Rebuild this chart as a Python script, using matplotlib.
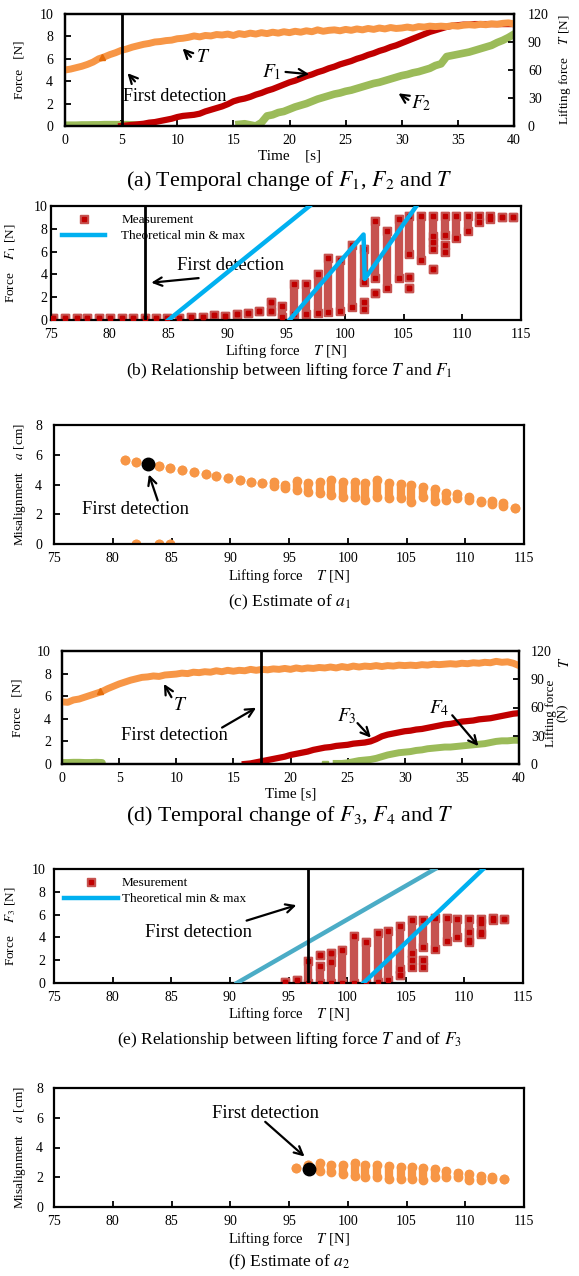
import numpy as np
import matplotlib.pyplot as plt
from matplotlib.lines import Line2D

plt.rcParams['font.family'] = ['Liberation Serif', 'DejaVu Serif']
plt.rcParams['mathtext.fontset'] = 'stix'

ORANGE = '#f79646'
DKORANGE = '#e46c0a'
RED = '#c00000'
GREEN = '#9bbb59'
BLUE = '#00b0f0'
TEAL = '#4bacc6'
SQ = '#c65350'

# ---------------- (a) temporal change of F1, F2, T (every 0.5 s)
a_T = [60, 61, 62.5, 64, 66, 68.5, 72, 74, 76.5, 78.5,
       81, 82.5, 84.5, 86, 87.5, 88.5, 90, 90.5, 91.5, 92,
       93.5, 94, 95, 96.5, 95.5, 97, 96.5, 98, 97.5, 98.5,
       97, 99, 98, 99.5, 98.5, 100, 99, 100.5, 99.5, 101,
       100, 101.5, 100.5, 102, 101, 103, 101.5, 102.5, 103, 102,
       103.5, 102.5, 104, 103, 104.5, 103.5, 105, 104, 105.5, 104.5,
       105, 106, 105, 106.5, 106, 107, 106.5, 107, 106.5, 107.5,
       107, 108, 108.5, 108, 109, 108.5, 109.5, 109, 110, 110.5,
       109.5]
a_F1_start = 5.0
a_F1 = [0.0, 0.05, 0.1, 0.15, 0.2, 0.3, 0.35, 0.45, 0.55, 0.65,
        0.8, 0.9, 0.95, 1.0, 1.1, 1.3, 1.45, 1.6, 1.75, 1.95,
        2.2, 2.35, 2.45, 2.6, 2.8, 2.95, 3.15, 3.3, 3.5, 3.7,
        3.9, 4.05, 4.25, 4.45, 4.6, 4.8, 4.95, 5.15, 5.3, 5.5,
        5.65, 5.8, 6.0, 6.15, 6.35, 6.5, 6.7, 6.85, 7.05, 7.2,
        7.4, 7.6, 7.8, 8.0, 8.2, 8.4, 8.55, 8.7, 8.85, 8.95,
        9.0, 9.05, 9.05, 9.1, 9.1, 9.1, 9.1, 9.1, 9.1, 9.1,
        9.1]
a_F2_early = [0.1, 0.1, 0.1, 0.12, 0.12, 0.13, 0.13, 0.15, 0.15, 0.15,
              0.15, 0.15, 0.13, 0.1, 0.05]
a_F2_start = 15.5
a_F2 = [0.15, 0.2, 0.1, 0.0, 0.3,
        0.9, 1.0, 1.2, 1.3, 1.5,
        1.7, 1.85, 2.0, 2.2, 2.4,
        2.55, 2.7, 2.85, 2.95, 3.1,
        3.2, 3.35, 3.5, 3.65, 3.8,
        3.9, 4.05, 4.2, 4.35, 4.5,
        4.6, 4.75, 4.85, 5.0, 5.15,
        5.4, 5.55, 6.2, 6.3, 6.4,
        6.5, 6.6, 6.75, 6.9, 7.05,
        7.2, 7.45, 7.65, 7.9, 8.2]
a_detect = 5.08

# ---------------- (b) F1 vs T : columns (T, low, high)
b_T = [75.2, 76.2, 77.2, 78.1, 79.1, 80.0, 81.0, 82.0, 83.0, 83.9,
       84.9, 85.9, 86.9, 87.9, 88.9, 89.8, 90.8, 91.8, 92.7, 93.7,
       93.7, 94.7, 95.7, 96.7, 97.7, 98.6, 99.6, 100.6, 101.6, 101.6,
       102.6, 102.6, 103.6, 104.6, 105.5, 105.5, 105.5, 106.5, 107.5, 107.5,
       107.5, 108.5, 108.5, 109.5, 110.5, 111.4, 112.4, 113.4, 114.3]
b_lo = [0.15, 0.15, 0.15, 0.15, 0.15, 0.15, 0.2, 0.2, 0.2, 0.2,
        0.2, 0.15, 0.3, 0.25, 0.4, 0.35, 0.55, 0.6, 0.8, 0.8,
        1.6, 0.3, 0.5, 0.5, 0.6, 0.7, 0.8, 1.1, 1.0, 3.3,
        2.4, 3.7, 2.8, 3.7, 2.8, 3.8, 5.8, 5.3, 4.5, 6.2,
        7.4, 6.0, 7.5, 7.2, 7.8, 8.6, 8.9, 9.0, 9.0]
b_hi = [0.15, 0.15, 0.15, 0.15, 0.15, 0.15, 0.2, 0.2, 0.2, 0.2,
        0.2, 0.15, 0.3, 0.25, 0.4, 0.35, 0.55, 0.6, 0.8, 0.8,
        1.6, 1.2, 3.2, 3.2, 4.0, 5.4, 5.3, 6.6, 1.6, 6.2,
        2.4, 8.7, 7.8, 8.9, 2.8, 3.8, 9.1, 9.1, 4.5, 6.8,
        9.1, 6.6, 9.1, 9.1, 9.1, 9.1, 9.1, 9.0, 9.0]
b_theory1_T = [85.0, 97.0]
b_theory1_F = [0, 10]
b_theory2_T = [95.3, 101.6, 101.7, 106.1]
b_theory2_F = [0, 7.5, 3.6, 10]
b_detect = 83.0

# ---------------- (c) estimate of a1 : columns (T, low, high)
c_T = [81.0, 82.0, 83.9, 84.9, 85.9, 86.9, 87.9, 88.8, 89.8, 90.8,
       91.8, 92.7, 93.7, 94.7, 95.7, 96.6, 97.6, 98.6, 99.6, 100.6,
       101.5, 102.5, 103.5, 104.5, 105.4, 106.4, 107.4, 108.4, 109.3, 110.3,
       111.3, 112.3, 113.2, 114.2, 82.0, 83.9, 84.9]
c_lo = [5.65, 5.5, 5.25, 5.1, 4.95, 4.82, 4.7, 4.57, 4.42, 4.32,
        4.2, 4.1, 3.9, 3.75, 3.6, 3.5, 3.4, 3.3, 3.15, 3.15,
        2.95, 3.15, 3.1, 3.1, 2.85, 3.15, 2.9, 2.95, 3.1, 2.95,
        2.8, 2.7, 2.55, 2.45, 0, 0, 0]
c_hi = [5.65, 5.5, 5.25, 5.1, 4.95, 4.82, 4.7, 4.57, 4.42, 4.32,
        4.2, 4.1, 4.15, 3.95, 4.25, 4.1, 4.2, 4.3, 4.2, 4.2,
        4.1, 4.3, 4.1, 4.05, 3.95, 3.8, 3.7, 3.45, 3.35, 3.15,
        2.9, 2.9, 2.75, 2.45, 0, 0, 0]
c_first = (83.0, 5.38)

# ---------------- (d) temporal change of F3, F4, T (every 0.5 s)
d_T = [66, 65.5, 68, 69, 71, 73, 75, 77, 80, 82.5,
       85, 87, 89, 90.5, 92, 92.5, 93.5, 93, 94.5, 95,
       95.5, 96.5, 96, 97.5, 97, 98, 97.5, 99, 98, 99.5,
       98.5, 99.5, 99, 100.5, 99.5, 100.5, 100, 101, 100.5, 101.5,
       100.5, 102, 101, 102, 101.5, 102.5, 102, 103, 102, 103.5,
       102.5, 104, 103, 104, 103.5, 104.5, 103.5, 104.5, 104, 105,
       104.5, 105, 104.5, 105.5, 105, 106, 105.5, 106, 106.5, 106,
       107, 106.5, 107.5, 107, 108, 107.5, 109, 108, 108.5, 107,
       104.5]
d_F3_start = 16.0
d_F3 = [0.0, 0.05, 0.15, 0.25, 0.35, 0.45, 0.55, 0.65,
        0.8, 0.9, 1.0, 1.1, 1.25, 1.35, 1.45, 1.5, 1.6, 1.65,
        1.7, 1.8, 1.85, 1.9, 2.0, 2.2, 2.45, 2.6, 2.7, 2.8,
        2.9, 2.95, 3.05, 3.1, 3.2, 3.3, 3.4, 3.5, 3.55, 3.65,
        3.75, 3.8, 3.85, 3.95, 4.0, 4.05, 4.15, 4.25, 4.35, 4.45,
        4.5]
d_F4_early = [0.1, 0.1, 0.12, 0.12, 0.1, 0.1, 0.12, 0.1]
d_F4_single = (23.0, 0.0)
d_F4_start = 24.0
d_F4 = [0.05, 0.05, 0.1, 0.2, 0.3, 0.35, 0.4, 0.5, 0.65, 0.8,
        0.9, 1.0, 1.05, 1.1, 1.2, 1.25, 1.35, 1.4, 1.45, 1.5,
        1.5, 1.55, 1.6, 1.65, 1.7, 1.75, 1.8, 1.9, 2.0, 2.05,
        2.05, 2.1, 2.1]
d_detect = 17.4

# ---------------- (e) F3 vs T : columns (T, low, high)
e_T = [94.7, 95.7, 96.7, 97.7, 97.7, 98.6, 98.6, 99.6, 100.6, 101.6,
       102.6, 103.5, 104.5, 104.5, 105.5, 105.5, 106.5, 106.5, 107.5, 108.5,
       109.4, 110.4, 110.4, 111.4, 111.4, 112.4, 113.4]
e_lo = [0.1, 0.3, 0.0, 0.0, 2.5, 0.0, 2.6, 0.0, 0.0, 0.0,
        0.1, 0.3, 0.7, 1.2, 1.4, 2.6, 1.4, 3.2, 3.0, 3.7,
        4.0, 3.6, 4.5, 4.3, 5.3, 5.5, 5.6]
e_hi = [0.1, 0.3, 1.9, 1.5, 2.5, 1.8, 2.6, 2.9, 4.1, 3.6,
        4.4, 4.6, 0.7, 5.0, 2.0, 5.5, 2.0, 5.5, 5.7, 5.7,
        5.6, 3.8, 5.6, 4.5, 5.6, 5.7, 5.6]
e_theory1_T = [90.6, 107.5]
e_theory1_F = [0, 10]
e_theory2_T = [101.4, 111.6]
e_theory2_F = [0, 10]
e_detect = 96.7

# ---------------- (f) estimate of a2 : columns (T, low, high)
f_T = [95.6, 96.6, 97.6, 98.6, 99.6, 100.6, 101.5, 102.5, 103.5, 104.5,
       105.5, 106.4, 107.4, 108.4, 109.4, 110.3, 111.3, 112.3, 113.3]
f_lo = [2.63, 2.8, 2.4, 2.35, 2.2, 2.1, 2.0, 2.0, 1.9, 1.9,
        1.9, 1.8, 2.0, 2.0, 2.0, 1.8, 1.8, 1.9, 1.85]
f_hi = [2.63, 2.8, 2.95, 2.85, 2.85, 2.95, 2.8, 2.85, 2.75, 2.7,
        2.7, 2.65, 2.55, 2.45, 2.3, 2.2, 2.1, 2.0, 1.85]
f_first = (96.7, 2.55)

W, H = 579, 1276
fig = plt.figure(figsize=(W / 100, H / 100), dpi=100)


def place(l, r, t, b):
    ax = fig.add_axes([l / W, 1 - b / H, (r - l) / W, (b - t) / H])
    ax.px = (r - l, b - t)
    return ax


def style(ax, ypad, right_ticks=False, rpad=10):
    for s in ax.spines.values():
        s.set_linewidth(1.6)
    ax.tick_params(direction='in', length=4, width=1.3, labelsize=10,
                   top=False, right=right_ticks)
    ax.tick_params(axis='x', pad=5.5)
    ax.tick_params(axis='y', which='both', pad=ypad)
    if right_ticks:
        ax.tick_params(axis='y', pad=rpad)


def labels(ax, xlab, ylab, ydx, xdy=30, xsize=10.5, ysize=9.5):
    w, h = ax.px
    ax.set_xlabel(xlab, fontsize=xsize)
    ax.xaxis.set_label_coords(0.5, -xdy / h)
    ax.xaxis.label.set_va('center')
    ax.set_ylabel(ylab, fontsize=ysize)
    ax.yaxis.set_label_coords(-ydx / w, 0.5)
    ax.yaxis.label.set_va('center')


def times(t0, vals):
    return t0 + 0.5 * np.arange(len(vals))


def arrow(ax, tail, head, **kw):
    ax.annotate('', xy=head, xytext=tail,
                arrowprops=dict(arrowstyle='->', lw=1.6, color='black',
                                mutation_scale=15), **kw)


def squares(ax, xs, los, his):
    for x, lo, hi in zip(xs, los, his):
        ax.plot([x, x], [lo, hi], color=SQ, lw=6, solid_capstyle='projecting',
                zorder=2)
        ax.plot([x, x], [lo, hi], ls='none', marker='s', ms=6, mfc=SQ,
                mec=SQ, zorder=2)
        ax.plot([x, x], [lo, hi], ls='none', marker='s', ms=2.3, mfc=RED,
                mec=RED, zorder=3)


def dots(ax, xs, los, his):
    for x, lo, hi in zip(xs, los, his):
        ax.plot([x, x], [lo, hi], color=ORANGE, lw=6, solid_capstyle='round',
                zorder=2)
        ax.plot([x, x], [lo, hi], ls='none', marker='o', ms=6, mfc=ORANGE,
                mec=ORANGE, zorder=2)


def caption(y, s, size=12.5):
    fig.text(0.5, 1 - y / H, s, ha='center', va='center', fontsize=size)


# ================= (a)
ax = place(65, 514, 14, 126)
ax2 = ax.twinx()
ax.plot(times(0, a_F2_early), a_F2_early, color=GREEN, lw=5, solid_capstyle='round')
ax.plot(times(a_F1_start, a_F1), a_F1, color=RED, lw=4.5)
ax.plot(times(a_F2_start, a_F2), a_F2, color=GREEN, lw=5.5)
ax2.plot(times(0, a_T), a_T, color=ORANGE, lw=5)
ax2.plot([3.3], [74], marker='^', color=DKORANGE, ms=5)
ax2.axvline(a_detect, color='black', lw=2)
ax.set_xlim(0, 40)
ax.set_ylim(0, 10)
ax2.set_ylim(0, 120)
ax.set_xticks(np.arange(0, 41, 5))
ax.set_yticks(np.arange(0, 11, 2))
ax2.set_yticks(np.arange(0, 121, 30))
style(ax, 8.5)
style(ax2, 8.5, right_ticks=True, rpad=10)
labels(ax, 'Time    [s]', 'Force   [N]', 45, xsize=11)
ax2.set_ylabel('Lifting force    $T$ [N]', fontsize=9.5)
ax2.yaxis.set_label_coords(1 + 51 / ax.px[0], 0.5)
ax2.yaxis.label.set_va('center')
kw = dict(xycoords=ax.transData, textcoords=ax.transData)
ax2.text(12.3, 6.1, '$T$', fontsize=14, va='center', ha='center', transform=ax.transData)
arrow(ax2, (11.4, 6.0), (10.3, 7.1), **kw)
ax2.text(5.2, 2.6, 'First detection', fontsize=13, va='center', transform=ax.transData)
arrow(ax2, (6.4, 3.8), (5.4, 4.9), **kw)
ax2.text(18.4, 4.85, '$F_1$', fontsize=14, va='center', ha='center', transform=ax.transData)
arrow(ax2, (19.4, 4.85), (22.0, 4.6), **kw)
ax2.text(31.7, 2.0, '$F_2$', fontsize=14, va='center', ha='center', transform=ax.transData)
arrow(ax2, (30.8, 2.2), (29.5, 3.05), **kw)
caption(181, '(a) Temporal change of $F_1$, $F_2$ and $T$', 15.8)

# ================= (b)
ax = place(51, 521, 206, 320)
squares(ax, b_T, b_lo, b_hi)
ax.plot(b_theory1_T, b_theory1_F, color=BLUE, lw=3.2, zorder=4)
ax.plot(b_theory2_T, b_theory2_F, color=BLUE, lw=3.2, zorder=4)
ax.axvline(b_detect, color='black', lw=2, zorder=5)
ax.set_xlim(75, 115)
ax.set_ylim(0, 10)
ax.set_xticks(np.arange(75, 116, 5))
ax.set_yticks(np.arange(0, 11, 2))
style(ax, 2.5)
labels(ax, 'Lifting force    $T$ [N]', 'Force    $F_1$ [N]', 40, xdy=31)
ax.text(90.3, 4.8, 'First detection', fontsize=13.4, ha='center', va='center')
arrow(ax, (87.8, 3.7), (83.3, 3.25))
m_out = Line2D([], [], ls='none', marker='s', ms=6, mfc=SQ, mec=SQ)
m_in = Line2D([], [], ls='none', marker='s', ms=2.3, mfc=RED, mec=RED)
ln = Line2D([], [], color=BLUE, lw=3.2)
ax.legend([(m_out, m_in), ln], ['Measurement', 'Theoretical min & max'],
          loc='upper left', bbox_to_anchor=(0.023, 0.93), frameon=False,
          fontsize=9.5, handlelength=3.3, handletextpad=1.2, borderpad=0,
          borderaxespad=0, labelspacing=0.3)
caption(371, '(b) Relationship between lifting force $T$ and $F_1$')

# ================= (c)
ax = place(54, 524, 425, 544)
dots(ax, c_T, c_lo, c_hi)
ax.plot(*c_first, marker='o', ms=9, color='black', zorder=4)
ax.set_xlim(75, 115)
ax.set_ylim(0, 8)
ax.set_xticks(np.arange(75, 116, 5))
ax.set_yticks(np.arange(0, 9, 2))
style(ax, 8.5)
labels(ax, 'Lifting force    $T$ [N]', 'Misalignment    $a$ [cm]', 34, xdy=32)
ax.text(81.9, 2.35, 'First detection', fontsize=13.4, ha='center', va='center')
arrow(ax, (83.9, 2.75), (83.0, 4.85))
caption(602, '(c) Estimate of $a_1$')

# ================= (d)
ax = place(62, 519, 651, 764)
ax2 = ax.twinx()
ax.plot(times(0, d_F4_early), d_F4_early, color=GREEN, lw=5.5, solid_capstyle='round')
ax.plot(times(d_F3_start, d_F3), d_F3, color=RED, lw=4.5)
ax.plot(*d_F4_single, marker='s', ms=5, color=GREEN)
ax.plot(times(d_F4_start, d_F4), d_F4, color=GREEN, lw=5)
ax2.plot(times(0, d_T), d_T, color=ORANGE, lw=5)
ax2.plot([3.3], [77], marker='^', color=DKORANGE, ms=5)
ax2.axvline(d_detect, color='black', lw=2)
ax.set_xlim(0, 40)
ax.set_ylim(0, 10)
ax2.set_ylim(0, 120)
ax.set_xticks(np.arange(0, 41, 5))
ax.set_yticks(np.arange(0, 11, 2))
ax2.set_yticks(np.arange(0, 121, 30))
style(ax, 8)
style(ax2, 8, right_ticks=True, rpad=8.5)
labels(ax, 'Time [s]', 'Force   [N]', 44, xsize=11)
ax2.set_ylabel('Lifting force\n(N)', fontsize=9.5, linespacing=0.9)
ax2.yaxis.set_label_coords(1 + 38 / ax.px[0], 0.45)
ax2.yaxis.label.set_va('center')
fig.text(565 / W, 1 - 662 / H, '$T$', rotation=90, fontsize=10.5, ha='center', va='center')
kw = dict(xycoords=ax.transData, textcoords=ax.transData)
ax2.text(10.3, 5.2, '$T$', fontsize=14, va='center', ha='center', transform=ax.transData)
arrow(ax2, (9.7, 5.7), (8.8, 7.3), **kw)
ax2.text(9.8, 2.5, 'First detection', fontsize=13.3, va='center', ha='center',
         transform=ax.transData)
arrow(ax2, (13.8, 3.1), (17.2, 5.1), **kw)
ax2.text(24.9, 4.2, '$F_3$', fontsize=14, va='center', ha='center', transform=ax.transData)
arrow(ax2, (25.7, 3.8), (27.2, 2.15), **kw)
ax2.text(33.0, 4.9, '$F_4$', fontsize=14, va='center', ha='center', transform=ax.transData)
arrow(ax2, (34.0, 4.5), (36.6, 1.4), **kw)
caption(816, '(d) Temporal change of $F_3$, $F_4$ and $T$', 15.8)

# ================= (e)
ax = place(54, 523, 869, 983)
squares(ax, e_T, e_lo, e_hi)
ax.plot(e_theory1_T, e_theory1_F, color=TEAL, lw=3.2, zorder=4)
ax.plot(e_theory2_T, e_theory2_F, color=BLUE, lw=3.2, zorder=4)
ax.axvline(e_detect, color='black', lw=2, zorder=5)
ax.set_xlim(75, 115)
ax.set_ylim(0, 10)
ax.set_xticks(np.arange(75, 116, 5))
ax.set_yticks(np.arange(0, 11, 2))
style(ax, 6)
labels(ax, 'Lifting force    $T$ [N]', 'Force    $F_3$ [N]', 43, xdy=31)
ax.text(87.3, 4.45, 'First detection', fontsize=13.4, ha='center', va='center')
arrow(ax, (91.2, 5.4), (95.9, 6.9))
ax.legend([(m_out, m_in), ln], ['Mesurement', 'Theoretical min & max'],
          loc='upper left', bbox_to_anchor=(0.022, 0.93), frameon=False,
          fontsize=9.5, handlelength=4.05, handletextpad=0.3, borderpad=0,
          borderaxespad=0, labelspacing=0.3)
caption(1040, '(e) Relationship between lifting force $T$ and of $F_3$')

# ================= (f)
ax = place(54, 524, 1088, 1207)
dots(ax, f_T, f_lo, f_hi)
ax.plot(*f_first, marker='o', ms=9, color='black', zorder=4)
ax.set_xlim(75, 115)
ax.set_ylim(0, 8)
ax.set_xticks(np.arange(75, 116, 5))
ax.set_yticks(np.arange(0, 9, 2))
style(ax, 8)
labels(ax, 'Lifting force    $T$ [N]', 'Misalignment    $a$ [cm]', 34, xdy=32)
ax.text(93.0, 6.3, 'First detection', fontsize=13.4, ha='center', va='center')
arrow(ax, (92.8, 5.85), (96.5, 3.27))
caption(1262, '(f) Estimate of $a_2$')

fig.savefig('out.png', dpi=100)
